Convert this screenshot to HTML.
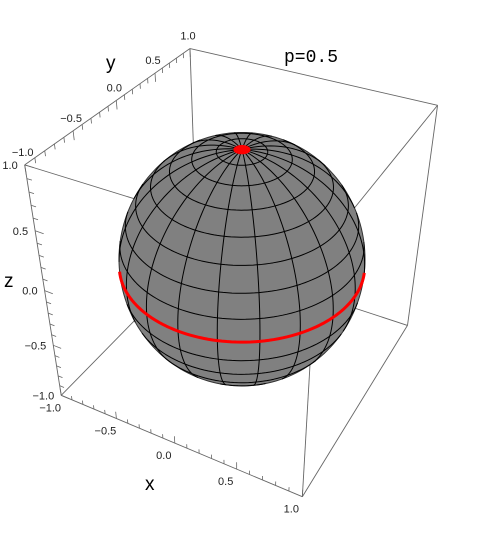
<!DOCTYPE html>
<html><head><meta charset="utf-8"><style>
html,body{margin:0;padding:0;background:#fff;}
svg{display:block;}
text{font-family:"Liberation Sans",sans-serif;}
</style></head><body>
<svg id="chart" width="480" height="540" viewBox="0 0 480 540" xmlns="http://www.w3.org/2000/svg">
<g id="box"></g>
<g id="ticks"></g>
<g id="labels"></g>
<g id="sphere"></g>
<text x="284" y="62" font-size="18" style="font-family:'Liberation Mono',monospace">p=0.5</text>
<text x="106" y="69" font-size="19">y</text>
<text x="4" y="287" font-size="19">z</text>
<text x="145" y="490" font-size="19">x</text>
</svg>
<script>
const tickValues=[-1.0,-0.5,0.0,0.5,1.0];
const tickLabels=["−1.0","−0.5","0.0","0.5","1.0"];
const minorTicks=[-0.9,-0.8,-0.7,-0.6,-0.4,-0.3,-0.2,-0.1,0.1,0.2,0.3,0.4,0.6,0.7,0.8,0.9];
const latitudeLines=[11.25,22.5,33.75,45,56.25,67.5,78.75,101.25,112.5,123.75,135,146.25,157.5,168.75];
const meridianLines=[0,18,36,54,72,90,108,126,144,162,180,198,216,234,252,270,288,306,324,342];
const highlightLatitude=[90];

const NS='http://www.w3.org/2000/svg';
const E=[1.3,-2.4,2];
const S=938,CX=242,CY=256;
const R=0.88;
function sub(a,b){return [a[0]-b[0],a[1]-b[1],a[2]-b[2]];}
function dot(a,b){return a[0]*b[0]+a[1]*b[1]+a[2]*b[2];}
function cross(a,b){return [a[1]*b[2]-a[2]*b[1],a[2]*b[0]-a[0]*b[2],a[0]*b[1]-a[1]*b[0]];}
function norm(a){const l=Math.sqrt(dot(a,a));return [a[0]/l,a[1]/l,a[2]/l];}
const fw=norm([-E[0],-E[1],-E[2]]);
const rt=norm(cross(fw,[0,0,1]));
const up=cross(rt,fw);
function proj(X,Y,Z){const p=[X/2,Y/2,Z/2];const d=sub(p,E);const dp=dot(d,fw);
 return [CX+S*dot(d,rt)/dp, CY-S*dot(d,up)/dp];}
function mk(tag,parent,attrs){const el=document.createElementNS(NS,tag);for(const k in attrs)el.setAttribute(k,attrs[k]);parent.appendChild(el);return el;}
function line(parent,a,b,stroke,w){return mk('line',parent,{x1:a[0].toFixed(2),y1:a[1].toFixed(2),x2:b[0].toFixed(2),y2:b[1].toFixed(2),stroke:stroke,'stroke-width':w});}

const boxG=document.getElementById('box');
const corners=[];
for(const x of [-1,1])for(const y of [-1,1])for(const z of [-1,1])corners.push([x,y,z]);
for(let i=0;i<8;i++)for(let j=i+1;j<8;j++){
 const a=corners[i],b=corners[j];let diff=0;for(let k=0;k<3;k++)if(a[k]!==b[k])diff++;
 if(diff===1){const l=line(boxG,proj(...a),proj(...b),'#666','0.9');
  
  }
}
const tg=document.getElementById('ticks');
function tick(p3,dir,len){const a=proj(...p3);const b=proj(p3[0]+dir[0]*len,p3[1]+dir[1]*len,p3[2]+dir[2]*len);
 const l=line(tg,a,b,'#666','0.8');
 
 }
for(const v of tickValues){tick([v,-1,-1],[0,0,1],0.07);tick([-1,v,1],[0,0,-1],0.07);tick([-1,-1,v],[1,0,0],0.07);}
for(const v of minorTicks){tick([v,-1,-1],[0,0,1],0.04);tick([-1,v,1],[0,0,-1],0.04);tick([-1,-1,v],[1,0,0],0.04);}
const lg=document.getElementById('labels');
function label(txt,p,dx,dy,anchor,name){const t=mk('text',lg,{x:(p[0]+dx).toFixed(1),y:(p[1]+dy).toFixed(1),'font-size':'11','text-anchor':anchor,fill:'#222'});t.textContent=txt;
 
 }
tickValues.forEach((v,i)=>{
 label(tickLabels[i],proj(v,-1,-1),-11,16,'middle','x-tick-label');
 label(tickLabels[i],proj(-1,v,1),-2,-9,'middle','y-tick-label');
 label(tickLabels[i],proj(-1,-1,v),-7,4,'end','z-tick-label');
});
const sg=document.getElementById('sphere');
function sp(th,ph){const t=th*Math.PI/180,f=ph*Math.PI/180;return [Math.sin(t)*Math.cos(f),Math.sin(t)*Math.sin(f),Math.cos(t)];}
function P3(n){const q=proj(n[0]*R,n[1]*R,n[2]*R);return [q[0],150+(q[1]-150)*1.03];}
function vis(n){const p=[n[0]*R/2,n[1]*R/2,n[2]*R/2];return dot(n,sub(E,p))>0;}
const eh=norm(E);const ca=(R/2)/Math.sqrt(dot(E,E)),sa=Math.sqrt(1-ca*ca);
const aa=norm(cross(eh,[0,0,1])),bb=cross(eh,aa);
let pts=[];
for(let i=0;i<=180;i++){const t=i/180*2*Math.PI;const n=[0,1,2].map(k=>ca*eh[k]+sa*(Math.cos(t)*aa[k]+Math.sin(t)*bb[k]));
 const q=P3(n);pts.push(q[0].toFixed(2)+','+q[1].toFixed(2));}
const sil=mk('polygon',sg,{points:pts.join(' '),fill:'#808080',stroke:'#333','stroke-width':'1'});


function curve(fn,n0,n1,step,stroke,w,name){let segs=[],cur=[];
 for(let s=n0;s<=n1+1e-9;s+=step){const n=fn(s);if(vis(n)){const q=P3(n);cur.push(q[0].toFixed(2)+','+q[1].toFixed(2));}else{if(cur.length>1)segs.push(cur);cur=[];}}
 if(cur.length>1)segs.push(cur);
 for(const sgm of segs){const pl=mk('polyline',sg,{points:sgm.join(' '),fill:'none',stroke:stroke,'stroke-width':w,'stroke-linejoin':'round'});
  
  }}
for(const th of latitudeLines)curve(ph=>sp(th,ph),0,360,2,'#000','1','latitude-line');
for(const ph of meridianLines)curve(th=>sp(th,ph),0,180,2,'#000','1','meridian-line');
for(const th of highlightLatitude)curve(ph=>sp(th,ph),0,360,2,'#f00','3','red-equator');
let cap=[];for(let i=0;i<=36;i++){const n=sp(3.5,i*10);const q=P3(n);cap.push(q[0].toFixed(2)+','+q[1].toFixed(2));}
const capEl=mk('polygon',sg,{points:cap.join(' '),fill:'#f00',stroke:'#f00','stroke-width':'1'});


</script>
</body></html>
